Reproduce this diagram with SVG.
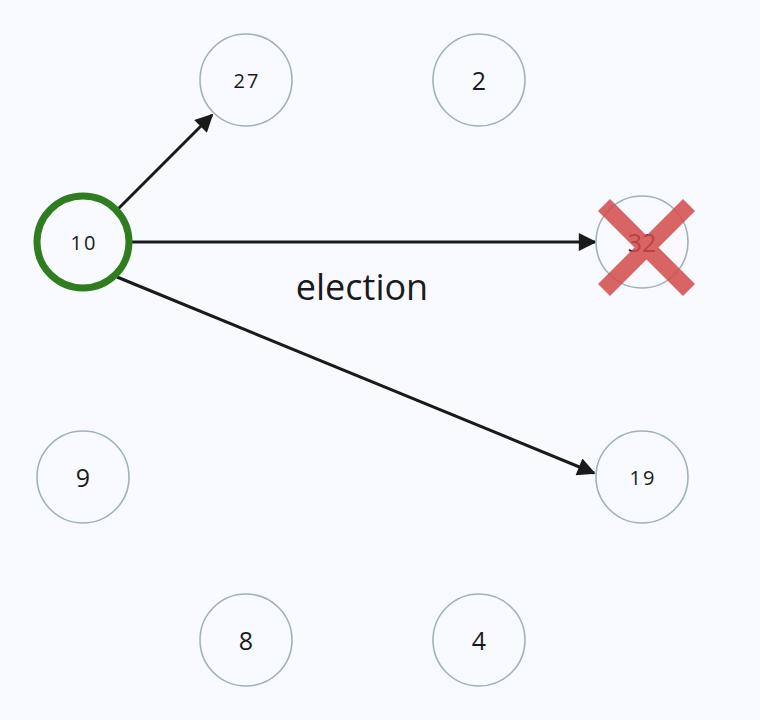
<svg xmlns="http://www.w3.org/2000/svg" width="760" height="720" viewBox="0 0 760 720">
<style>
.node circle{fill:#f8faff;stroke:#a0b1bd;stroke-width:1.6}
.node text{font-family:"Open Sans","DejaVu Sans",sans-serif;fill:#1a1a1a;text-anchor:middle;dominant-baseline:central}
.sm{font-size:20px;letter-spacing:2px}
.lg{font-size:25px}
.edge{stroke:#1a1a1a;stroke-width:3;fill:none;marker-end:url(#ah)}
</style>
<defs>
<marker id="ah" viewBox="0 0 10 10" refX="9" refY="5" markerWidth="6.5" markerHeight="6" markerUnits="strokeWidth" orient="auto">
<path d="M0,0 L10,5 L0,10 z" fill="#1a1a1a"/>
</marker>
</defs>
<rect width="760" height="720" fill="#f8faff"/>
<g id="connectors">
<line class="edge" x1="117" y1="210" x2="212" y2="115"/>
<line class="edge" x1="130" y1="242" x2="595" y2="242"/>
<line class="edge" x1="117" y1="277" x2="594" y2="473"/>
</g>
<g id="n27" class="node"><circle cx="246" cy="80" r="46"/><text class="sm" x="247" y="80">27</text></g>
<g id="n2" class="node"><circle cx="479" cy="80" r="46"/><text class="lg" x="479" y="80">2</text></g>
<g id="n10" class="node"><circle cx="83" cy="242" r="46" style="stroke:#2e7d1e;stroke-width:7"/><text class="sm" x="84" y="242">10</text></g>
<g id="n32" class="node"><circle cx="642" cy="242" r="46"/><text class="lg" x="642" y="242">32</text></g>
<g id="n9" class="node"><circle cx="83" cy="477" r="46"/><text class="lg" x="83" y="477">9</text></g>
<g id="n19" class="node"><circle cx="642" cy="477" r="46"/><text class="sm" x="643" y="477">19</text></g>
<g id="n8" class="node"><circle cx="246" cy="640" r="46"/><text class="lg" x="246" y="640">8</text></g>
<g id="n4" class="node"><circle cx="479" cy="640" r="46"/><text class="lg" x="479" y="640">4</text></g>
<g id="cross" opacity="0.85">
<line x1="604" y1="205" x2="689" y2="290" stroke="#d44a4a" stroke-width="17"/>
<line x1="689" y1="205" x2="604" y2="290" stroke="#d44a4a" stroke-width="17"/>
</g>
<text x="362" y="286" font-family="'Open Sans','DejaVu Sans',sans-serif" font-size="36" fill="#1a1a1a" text-anchor="middle" dominant-baseline="central">election</text>
</svg>
